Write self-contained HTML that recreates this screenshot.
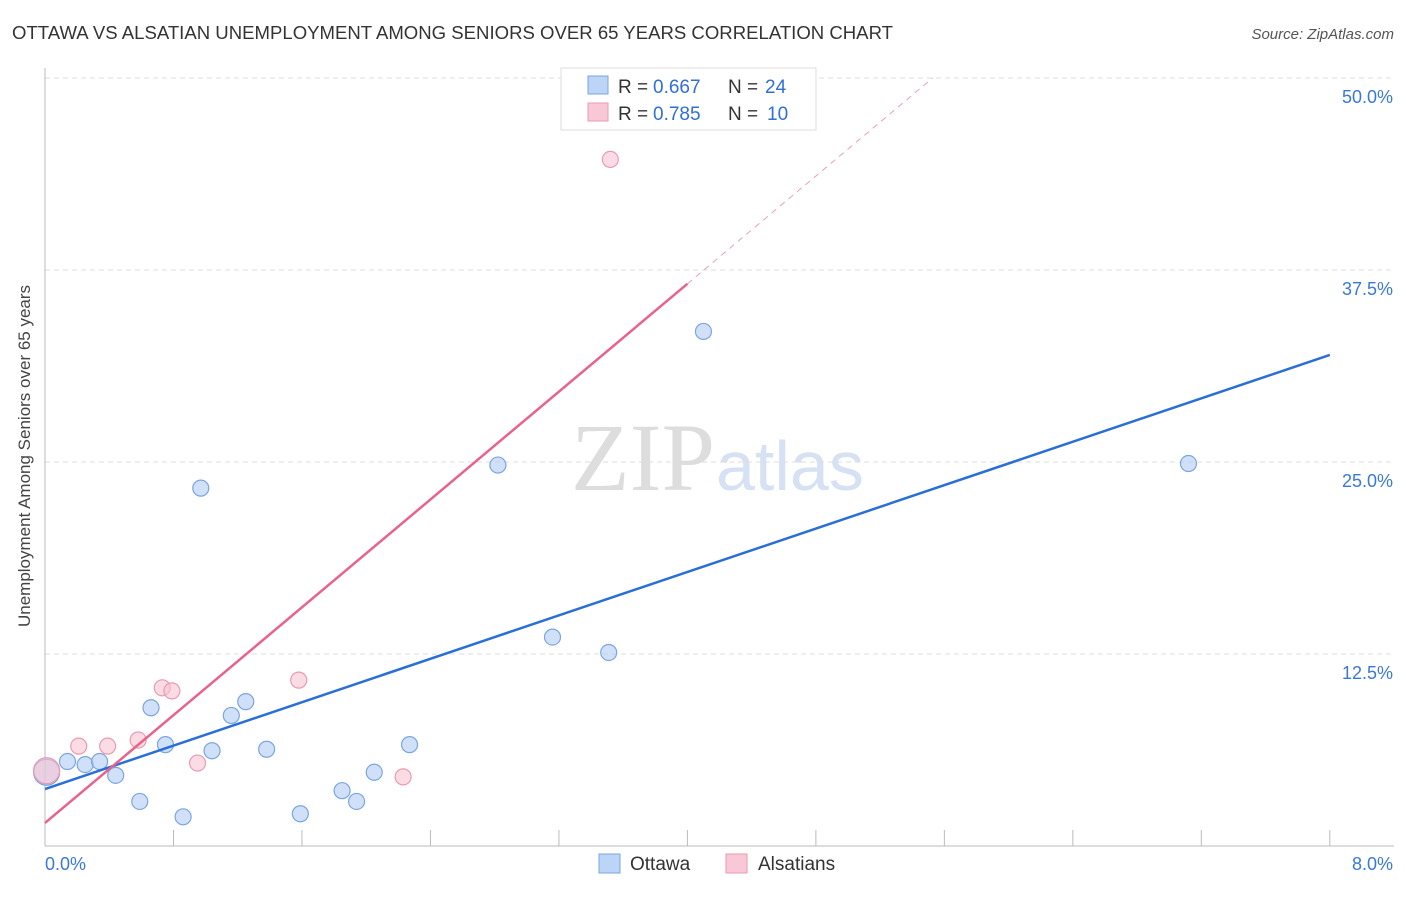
<!DOCTYPE html>
<html><head><meta charset="utf-8"><style>
body{margin:0;background:#fff;font-family:"Liberation Sans",sans-serif;}
svg text{font-family:"Liberation Sans",sans-serif;}
</style></head><body>
<svg id="c" width="1406" height="892" xmlns="http://www.w3.org/2000/svg">
<text x="12" y="39" font-size="18" fill="#333" textLength="881" lengthAdjust="spacingAndGlyphs">OTTAWA VS ALSATIAN UNEMPLOYMENT AMONG SENIORS OVER 65 YEARS CORRELATION CHART</text>
<text x="1394" y="39" font-size="15" fill="#555" font-style="italic" text-anchor="end">Source: ZipAtlas.com</text>
<text x="30" y="456" font-size="17" fill="#444" text-anchor="middle" transform="rotate(-90 30 456)">Unemployment Among Seniors over 65 years</text>
<text x="715" y="490" font-size="96" fill="#ddd" text-anchor="end" font-family="Liberation Serif" style="font-family:'Liberation Serif',serif">ZIP</text>
<text x="716" y="490" font-size="70" fill="#d6e2f3">atlas</text>
<g id="grid"></g><g id="marks"></g>
<g>
<rect x="561" y="68" width="255" height="62" fill="#fff" stroke="#ddd"/>
<rect x="588" y="76" width="20" height="18" fill="#bcd4f5" stroke="#7aa6e0"/>
<rect x="588" y="103" width="20" height="18" fill="#f9c8d6" stroke="#eb9ab2"/>
<text x="618" y="93" font-size="19" fill="#333">R =</text><text x="653" y="93" font-size="19" fill="#2f6fd6">0.667</text>
<text x="728" y="93" font-size="19" fill="#333">N =</text><text x="765" y="93" font-size="19" fill="#2f6fd6">24</text>
<text x="618" y="120" font-size="19" fill="#333">R =</text><text x="653" y="120" font-size="19" fill="#2f6fd6">0.785</text>
<text x="728" y="120" font-size="19" fill="#333">N =</text><text x="767" y="120" font-size="19" fill="#2f6fd6">10</text>
</g>
<g>
<rect x="599" y="854" width="21" height="19" fill="#bcd4f5" stroke="#7aa6e0"/>
<text x="630" y="870" font-size="19" fill="#333">Ottawa</text>
<rect x="726" y="854" width="21" height="19" fill="#f9c8d6" stroke="#eb9ab2"/>
<text x="758" y="870" font-size="19" fill="#333">Alsatians</text>
</g>
</svg>
<script>
const blueX=[0.01,0.14,0.25,0.34,0.44,0.59,0.66,0.75,0.86,0.97,1.04,1.16,1.25,1.38,1.59,1.85,1.94,2.05,2.27,2.82,3.16,3.51,4.10,7.12];
const blueY=[4.8,5.5,5.3,5.5,4.6,2.9,9.0,6.6,1.9,23.3,6.2,8.5,9.4,6.3,2.1,3.6,2.9,4.8,6.6,24.8,13.6,12.6,33.5,24.9];
const pinkX=[0.01,0.21,0.39,0.58,0.73,0.79,0.95,1.58,2.23,3.52];
const pinkY=[4.9,6.5,6.5,6.9,10.3,10.1,5.4,10.8,4.5,44.7];
const blueFit=[3.71,31.97];
const pinkFit=[1.50,36.6];
const xTicks=["0.0%","8.0%"];
const yTicks=[12.5,25.0,37.5,50.0];
const xs=v=>45+v*160.6, ys=v=>846-v*15.36;
const NS="http://www.w3.org/2000/svg";
function mk(p,t,a){const e=document.createElementNS(NS,t);for(const k in a)e.setAttribute(k,a[k]);p.appendChild(e);return e;}
const g=document.getElementById('grid'),m=document.getElementById('marks');
yTicks.forEach(v=>{
 const l=mk(g,'line',{x1:45,x2:1394,y1:ys(v),y2:ys(v),stroke:'#ddd','stroke-dasharray':'5,4'});
 
 
 const t=mk(g,'text',{x:1393,y:ys(v)+25,'font-size':18,fill:'#3b78d8','text-anchor':'end'});t.textContent=v.toFixed(1)+'%';
 
 
});
mk(g,'line',{x1:45,x2:45,y1:68,y2:846,stroke:'#bbb'});
mk(g,'line',{x1:45,x2:1394,y1:846,y2:846,stroke:'#bbb'});
for(let i=0;i<=10;i++){const l=mk(g,'line',{x1:xs(i*0.8),x2:xs(i*0.8),y1:830,y2:846,stroke:'#bbb'});
 
 }
xTicks.forEach((s,i)=>{const t=mk(g,'text',{x:i?1393:45,y:870,'font-size':18,fill:'#3b78d8','text-anchor':i?'end':'start'});t.textContent=s;
 
 });
blueX.forEach((x,i)=>{const c=mk(m,'circle',{cx:xs(x),cy:ys(blueY[i]),r:i==0?13:8,fill:'rgba(176,204,243,0.6)',stroke:'#7aa6e0','stroke-width':1.2});
 
 });
pinkX.forEach((x,i)=>{const c=mk(m,'circle',{cx:xs(x),cy:ys(pinkY[i]),r:i==0?13:8,fill:'rgba(249,196,212,0.6)',stroke:'#eb9ab2','stroke-width':1.2});
 
 });
let l=mk(m,'line',{x1:xs(0),y1:ys(blueFit[0]),x2:xs(8),y2:ys(blueFit[1]),stroke:'#2a6fd6','stroke-width':2.5});


const ps=(pinkFit[1]-pinkFit[0])/4;
l=mk(m,'line',{x1:xs(0),y1:ys(pinkFit[0]),x2:xs(4),y2:ys(pinkFit[1]),stroke:'#e8638c','stroke-width':2.5});


const xe=(50-pinkFit[0])/ps;
l=mk(m,'line',{x1:xs(4),y1:ys(pinkFit[1]),x2:xs(xe),y2:ys(50),stroke:'#eba0b8','stroke-width':1,'stroke-dasharray':'6,5'});


</script>
</body></html>
